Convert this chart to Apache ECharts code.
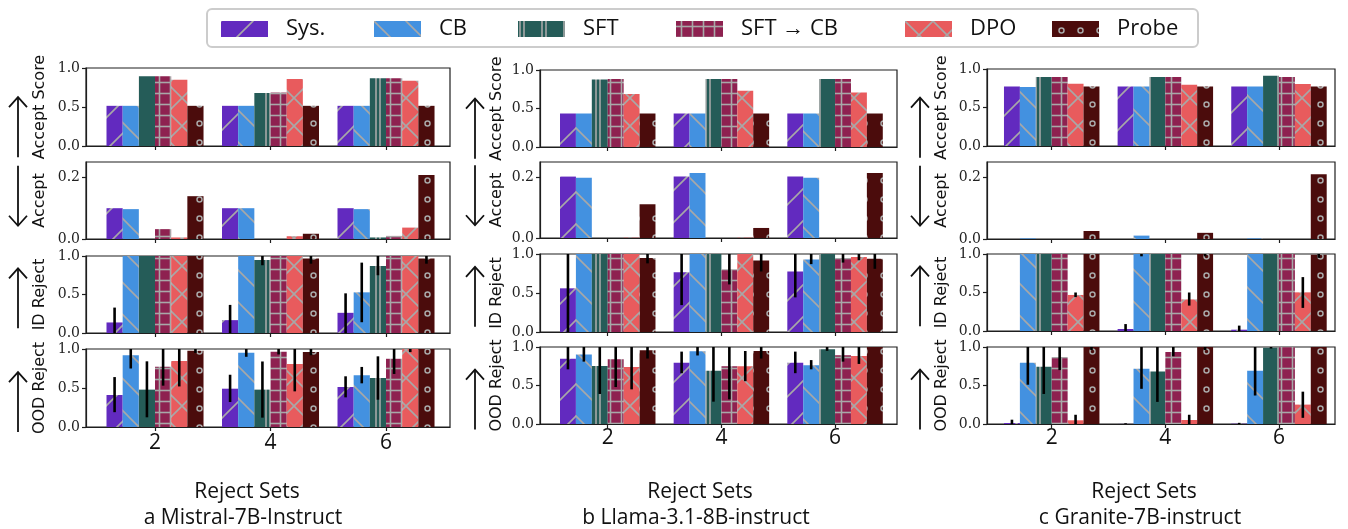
<!DOCTYPE html>
<html><head><meta charset="utf-8">
<script src="https://cdn.jsdelivr.net/npm/echarts@6/dist/echarts.min.js"></script>
<style>html,body{margin:0;padding:0;background:#fff}#c{width:1348px;height:529px}</style>
</head><body><div id="c"></div>
<script>
// ---------------- DATA ----------------
const CATEGORIES = [2, 4, 6];
const METHODS = ['Sys.', 'CB', 'SFT', 'SFT \u2192 CB', 'DPO', 'Probe'];
const MODEL_LABELS = ['a Mistral-7B-Instruct', 'b Llama-3.1-8B-instruct', 'c Granite-7B-instruct'];
const X_TITLE = 'Reject Sets';
const ROW_LABELS = ['Accept Score', 'Accept', 'ID Reject', 'OOD Reject'];
const ROW_ARROW_UP = [true, false, true, true];
const Y_TICKS_FULL = [0, 0.5, 1.0];
const Y_TICKS_ACCEPT = [0, 0.2];

// rows = method (Sys., CB, SFT, SFT->CB, DPO, Probe); columns = reject sets 2, 4, 6
const MISTRAL_ACCEPT_SCORE = [[0.515,0.515,0.515],[0.515,0.515,0.515],[0.893,0.678,0.867],[0.893,0.687,0.867],[0.850,0.858,0.837],[0.515,0.515,0.515]];
const MISTRAL_ACCEPT = [[0.100,0.100,0.100],[0.097,0.100,0.097],[0,0,0.005],[0.032,0,0.010],[0.005,0.009,0.037],[0.139,0.017,0.208]];
const MISTRAL_ID = [[0.137,0.167,0.262],[1,1,0.528],[1,0.948,0.871],[1,1,1],[1,1,1],[1,0.966,0.966]];
const MISTRAL_ID_LO = [[0,0,0],[null,null,0.14],[null,0.88,0.75],[null,null,null],[null,null,null],[null,0.90,0.90]];
const MISTRAL_ID_HI = [[0.33,0.365,0.515],[null,null,0.914],[null,1,1],[null,null,null],[null,null,null],[null,1,1]];
const MISTRAL_OOD = [[0.41,0.491,0.513],[0.919,0.953,0.662],[0.479,0.479,0.628],[0.773,0.966,0.876],[0.846,0.808,1.0],[0.979,0.962,1.0]];
const MISTRAL_OOD_LO = [[0.19,0.32,0.38],[0.75,0.90,0.56],[0.124,0.12,0.35],[0.53,0.93,0.68],[0.52,0.457,0.96],[0.95,0.92,null]];
const MISTRAL_OOD_HI = [[0.64,0.67,0.65],[1,1,0.77],[0.842,0.84,0.906],[1,1,1],[1,1,1],[1,1,null]];

const LLAMA_ACCEPT_SCORE = [[0.435,0.435,0.435],[0.435,0.435,0.435],[0.878,0.883,0.883],[0.883,0.883,0.883],[0.687,0.730,0.709],[0.435,0.435,0.435]];
const LLAMA_ACCEPT = [[0.202,0.202,0.202],[0.198,0.214,0.198],[0,0,0],[0,0,0],[0.001,0.001,0],[0.111,0.033,0.214]];
const LLAMA_ID = [[0.56,0.767,0.776],[1,1,0.931],[1,1,1],[1,0.806,0.948],[1,1,0.961],[0.948,0.918,0.94]];
const LLAMA_ID_LO = [[0,0.345,0.444],[null,null,0.87],[null,null,null],[null,0.61,0.89],[null,null,0.92],[0.88,0.776,0.81]];
const LLAMA_ID_HI = [[1,1,1],[null,null,1],[null,null,null],[null,1,1],[null,null,1],[1,1,1]];
const LLAMA_OOD = [[0.849,0.797,0.797],[0.901,0.944,0.763],[0.754,0.69,0.97],[0.84,0.75,0.892],[0.741,0.75,0.884],[0.957,0.948,1.0]];
const LLAMA_OOD_LO = [[0.71,0.66,0.66],[0.81,0.89,0.71],[0.39,0.29,0.95],[0.48,0.32,0.81],[0.45,0.556,0.78],[0.85,0.85,null]];
const LLAMA_OOD_HI = [[1,0.94,0.94],[1,1,0.83],[1,1,1],[1,1,1],[1,0.948,1],[1,1,null]];

const GRANITE_ACCEPT_SCORE = [[0.774,0.774,0.774],[0.765,0.774,0.774],[0.896,0.896,0.913],[0.896,0.896,0.896],[0.809,0.796,0.804],[0.774,0.774,0.774]];
const GRANITE_ACCEPT = [[0,0,0],[0.002,0.011,0.002],[0,0,0],[0,0,0],[0,0,0],[0.026,0.020,0.210]];
const GRANITE_ID = [[0,0.026,0.017],[1,1,1],[1,1,1],[1,1,1],[0.468,0.41,0.502],[1,1,0.99]];
const GRANITE_ID_LO = [[null,0,0],[null,0.97,null],[null,null,null],[null,null,null],[0.44,0.33,0.30],[null,0.97,0.95]];
const GRANITE_ID_HI = [[null,0.09,0.07],[null,1,null],[null,null,null],[null,null,null],[0.50,0.50,0.70],[null,1,1]];
const GRANITE_OOD = [[0.013,0.001,0.004],[0.796,0.717,0.691],[0.743,0.683,0.99],[0.87,0.935,1.0],[0.048,0.052,0.252],[1,1,1]];
const GRANITE_OOD_LO = [[0,0,0],[0.51,0.457,0.37],[0.39,0.287,0.98],[0.70,0.88,null],[0,0,0.08],[0.96,0.96,null]];
const GRANITE_OOD_HI = [[0.056,0.01,0.015],[1,1,1],[1,1,1],[1,1,null],[0.12,0.12,0.42],[1,1,null]];

// ---------------- STYLE / LAYOUT ----------------
const COLORS = ['#622abf', '#4391e0', '#255c58', '#8e2150', '#e85b5d', '#4b0c0c'];
const HATCH = ['/', '\\', '|', '+', 'x', 'o'];
const HATCH_COLOR = '#a8a8a8';
const BAR_W = 0.28;
const NAME_FONT_SIZE = 16;
const NAME_FONT = 'DejaVu Sans';

const COL_LAYOUT = [
  { left: 86, width: 364, xmin: 0.805, xmax: 7.108, tops: [68, 162, 256, 349], heights: [78, 77, 77, 78], nameGap: 35 },
  { left: 540, width: 357, xmin: 0.808, xmax: 7.09, tops: [70, 162, 254, 347], heights: [77, 76, 78, 77], nameGap: 32 },
  { left: 987, width: 348, xmin: 0.861, xmax: 6.986, tops: [69, 162, 254, 347], heights: [77, 77, 77, 77], nameGap: 34 }
];

const PANELS = [
  [MISTRAL_ACCEPT_SCORE, MISTRAL_ACCEPT, MISTRAL_ID, MISTRAL_OOD],
  [LLAMA_ACCEPT_SCORE, LLAMA_ACCEPT, LLAMA_ID, LLAMA_OOD],
  [GRANITE_ACCEPT_SCORE, GRANITE_ACCEPT, GRANITE_ID, GRANITE_OOD]
];
const ERRORS = [
  [null, null, [MISTRAL_ID_LO, MISTRAL_ID_HI], [MISTRAL_OOD_LO, MISTRAL_OOD_HI]],
  [null, null, [LLAMA_ID_LO, LLAMA_ID_HI], [LLAMA_OOD_LO, LLAMA_OOD_HI]],
  [null, null, [GRANITE_ID_LO, GRANITE_ID_HI], [GRANITE_OOD_LO, GRANITE_OOD_HI]]
];

function makePattern(base, kind) {
  const sizes = { '/': 32, '\\': 32, '|': 22, '+': 11, 'x': 28, 'o': 19 };
  const s = sizes[kind];
  const c = document.createElement('canvas');
  c.width = s; c.height = s;
  const g = c.getContext('2d');
  g.fillStyle = base; g.fillRect(0, 0, s, s);
  g.strokeStyle = HATCH_COLOR; g.lineWidth = 1.6;
  const line = (x1, y1, x2, y2) => { g.beginPath(); g.moveTo(x1, y1); g.lineTo(x2, y2); g.stroke(); };
  if (kind === '/') { line(-2, s + 2, s + 2, -2); line(-2, 2, 2, -2); line(s - 2, s + 2, s + 2, s - 2); }
  else if (kind === '\\') { line(-2, -2, s + 2, s + 2); line(s - 2, -2, s + 2, 2); line(-2, s - 2, 2, s + 2); }
  else if (kind === '|') { line(2, 0, 2, s); line(6, 0, 6, s); }
  else if (kind === '+') { line(5.5, 0, 5.5, s); line(0, 5.5, s, 5.5); }
  else if (kind === 'x') { line(-2, -2, s + 2, s + 2); line(-2, s + 2, s + 2, -2); }
  else if (kind === 'o') { g.lineWidth = 1.5; g.beginPath(); g.arc(s / 2, s / 2, 2.5, 0, Math.PI * 2); g.stroke(); }
  return { image: c, repeat: 'repeat' };
}
const PATTERNS = COLORS.map((col, i) => makePattern(col, HATCH[i]));

function barRenderer(fill) {
  return function (params, api) {
    const x = api.value(0), v = api.value(1);
    if (!(v > 0)) return null;
    const a = api.coord([x - BAR_W / 2, v]);
    const b = api.coord([x + BAR_W / 2, 0]);
    return { type: 'rect', shape: { x: a[0], y: a[1], width: b[0] - a[0], height: b[1] - a[1] }, style: { fill: fill } };
  };
}
function errRenderer(params, api) {
  const x = api.value(0);
  const a = api.coord([x, api.value(1)]);
  const b = api.coord([x, api.value(2)]);
  return { type: 'line', shape: { x1: a[0], y1: a[1], x2: b[0], y2: b[1] }, style: { stroke: '#000', lineWidth: 2.6 } };
}

const measureCtx = document.createElement('canvas').getContext('2d');
measureCtx.font = NAME_FONT_SIZE + 'px "' + NAME_FONT + '"';

const AXIS_COLOR = '#1e1e1e';
const grids = [], xAxes = [], yAxes = [], series = [], arrows = [];
for (let c = 0; c < 3; c++) {
  const L = COL_LAYOUT[c];
  for (let r = 0; r < 4; r++) {
    const gi = c * 4 + r;
    grids.push({ left: L.left, top: L.tops[r], width: L.width, height: L.heights[r], show: true, borderColor: AXIS_COLOR, borderWidth: 1.2, backgroundColor: 'transparent' });
    xAxes.push({
      gridIndex: gi, type: 'value', min: L.xmin, max: L.xmax,
      axisLine: { show: true, onZero: false, lineStyle: { color: AXIS_COLOR, width: 1.2 } },
      axisTick: { show: true, customValues: CATEGORIES, length: 4, lineStyle: { color: AXIS_COLOR, width: 1.2 } },
      axisLabel: { show: r === 3, customValues: CATEGORIES, fontFamily: 'Open Sans', fontSize: 21, color: '#111', margin: c === 0 ? 6 : 4 },
      splitLine: { show: false }
    });
    const ticks = r === 1 ? Y_TICKS_ACCEPT : Y_TICKS_FULL;
    yAxes.push({
      gridIndex: gi, type: 'value', min: 0, max: r === 1 ? 0.25 : 1,
      axisLine: { show: true, lineStyle: { color: AXIS_COLOR, width: 1.2 } },
      axisTick: { show: true, customValues: ticks, length: 4, lineStyle: { color: AXIS_COLOR, width: 1.2 } },
      axisLabel: { customValues: ticks, formatter: v => Number(v).toFixed(1), fontFamily: 'DejaVu Serif', fontSize: 14, color: '#222', margin: 6 },
      splitLine: { show: false },
      name: ROW_LABELS[r],
      nameLocation: 'middle', nameRotate: 90, nameGap: L.nameGap,
      nameTextStyle: { fontFamily: NAME_FONT, fontSize: NAME_FONT_SIZE, lineHeight: 22, color: '#111' }
    });
    // direction arrow next to the axis name (bottom-aligned with the name text)
    const textLen = measureCtx.measureText(ROW_LABELS[r]).width;
    const cy = L.tops[r] + L.heights[r] / 2;
    const ax = L.left - L.nameGap - 11 - 22;
    const yBot = cy + textLen / 2 - 2;
    const yTop = yBot - 60;
    const up = ROW_ARROW_UP[r];
    const tip = up ? yTop : yBot;
    const d = up ? 10 : -10;
    arrows.push({
      type: 'group', silent: true, children: [
        { type: 'line', shape: { x1: ax, y1: yTop, x2: ax, y2: yBot }, style: { stroke: '#111', lineWidth: 1.8 } },
        { type: 'polyline', shape: { points: [[ax - 9, tip + d], [ax, tip], [ax + 9, tip + d]] }, style: { stroke: '#111', lineWidth: 1.8, fill: null } }
      ]
    });

    const vals = PANELS[c][r];
    for (let m = 0; m < METHODS.length; m++) {
      series.push({
        type: 'custom', name: METHODS[m], xAxisIndex: gi, yAxisIndex: gi,
        itemStyle: { color: PATTERNS[m] },
        encode: { x: 0, y: 1 },
        renderItem: barRenderer(PATTERNS[m]),
        data: CATEGORIES.map((cat, k) => [cat + (m - 2.5) * BAR_W, vals[m][k]]),
        z: 2, animation: false, silent: true
      });
    }
    const err = ERRORS[c][r];
    if (err) {
      const data = [];
      for (let m = 0; m < METHODS.length; m++) {
        CATEGORIES.forEach((cat, k) => {
          if (err[0][m][k] !== null) data.push([cat + (m - 2.5) * BAR_W, err[0][m][k], err[1][m][k]]);
        });
      }
      series.push({ type: 'custom', xAxisIndex: gi, yAxisIndex: gi, encode: { x: 0, y: [1, 2] }, renderItem: errRenderer, data: data, z: 3, animation: false, silent: true });
    }
  }
}

const LEGEND_LEFT = [216, 369, 513, 671, 900, 1047];
const legends = METHODS.map((name, i) => ({
  data: [name], left: LEGEND_LEFT[i], top: 13, orient: 'horizontal',
  itemWidth: 47, itemHeight: 16, icon: 'rect', selectedMode: false,
  textStyle: { fontFamily: 'Open Sans', fontSize: 22, color: '#111', padding: [0, 0, 0, 13] }
}));

const CAPTION_X = [247, 700, 1144];
const graphics = [{ type: 'rect', shape: { x: 207, y: 9, width: 991, height: 38, r: 5 }, style: { fill: '#fff', stroke: '#cccccc', lineWidth: 2 }, z: -10 }];
for (let c = 0; c < 3; c++) {
  graphics.push({ type: 'text', x: CAPTION_X[c], y: 492, style: { text: X_TITLE, align: 'center', verticalAlign: 'middle', font: '21px "Open Sans"', fill: '#111' } });
  graphics.push({ type: 'text', x: CAPTION_X[c] - 4, y: 518, style: { text: MODEL_LABELS[c], align: 'center', verticalAlign: 'middle', font: '21px "Open Sans"', fill: '#111' } });
}

const chart = echarts.init(document.getElementById('c'), null, { renderer: 'canvas' });
chart.setOption({
  animation: false,
  backgroundColor: '#fff',
  grid: grids, xAxis: xAxes, yAxis: yAxes, series: series,
  legend: legends, graphic: graphics.concat(arrows)
});
</script></body></html>
